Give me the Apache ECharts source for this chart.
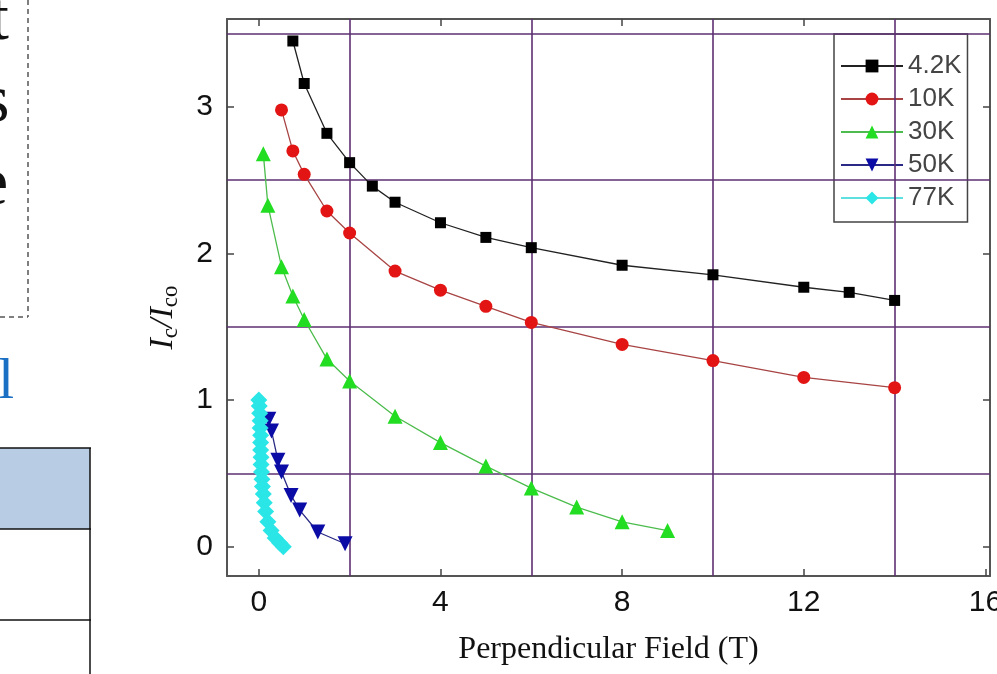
<!DOCTYPE html>
<html>
<head>
<meta charset="utf-8">
<title>Ic/Ico vs Perpendicular Field</title>
<script src="https://cdn.jsdelivr.net/npm/echarts@6/dist/echarts.min.js"></script>
<style>
	html, body { margin: 0; padding: 0; background: #fff; }
	#chart { width: 997px; height: 674px; }
</style>
</head>
<body>
<div id="chart"></div>
<script>
	// 数据
	var seriesNames = ['4.2K', '10K', '30K', '50K', '77K'];

	var field42 = [0.75, 1, 1.5, 2, 2.5, 3, 4, 5, 6, 8, 10, 12, 13, 14];
	var ratio42 = [3.45, 3.16, 2.82, 2.62, 2.46, 2.35, 2.21, 2.11, 2.04, 1.92, 1.855, 1.77, 1.735, 1.68];

	var field10 = [0.5, 0.75, 1, 1.5, 2, 3, 4, 5, 6, 8, 10, 12, 14];
	var ratio10 = [2.98, 2.70, 2.54, 2.29, 2.14, 1.88, 1.75, 1.64, 1.53, 1.38, 1.27, 1.155, 1.085];

	var field30 = [0.1, 0.2, 0.5, 0.75, 1, 1.5, 2, 3, 4, 5, 6, 7, 8, 9];
	var ratio30 = [2.68, 2.33, 1.91, 1.71, 1.55, 1.28, 1.13, 0.89, 0.71, 0.55, 0.40, 0.27, 0.17, 0.11];

	var field50 = [0.22, 0.28, 0.42, 0.5, 0.71, 0.9, 1.3, 1.9];
	var ratio50 = [0.87, 0.79, 0.59, 0.51, 0.35, 0.25, 0.1, 0.02];

	var field77 = [0.0, 0.01, 0.02, 0.03, 0.03, 0.04, 0.04, 0.04, 0.05, 0.05, 0.06, 0.07, 0.08, 0.1, 0.12, 0.15, 0.2, 0.27, 0.36, 0.46, 0.54];
	var ratio77 = [1.0, 0.96, 0.91, 0.86, 0.81, 0.76, 0.71, 0.66, 0.61, 0.56, 0.51, 0.46, 0.41, 0.36, 0.3, 0.24, 0.17, 0.11, 0.06, 0.025, 0.0];

	var xTicks = [0, 4, 8, 12, 16];
	var yTicks = [0, 1, 2, 3];
	var xGuides = [2, 6, 10, 14];
	var yGuides = [0.5, 1.5, 2.5, 3.5];

	var fieldList = [field42, field10, field30, field50, field77];
	var ratioList = [ratio42, ratio10, ratio30, ratio50, ratio77];

	var symbols = ['rect', 'circle', 'triangle', 'triangle', 'diamond'];
	var symbolSizes = [11, 13, 15, 15, 17];
	var symbolRotates = [0, 0, 0, 180, 0];
	var markColors = ['#000000', '#e31414', '#22dd22', '#0b0ba6', '#2ae6e6'];
	var lineColors = ['#222222', '#a84444', '#4cbc4c', '#2a2a86', '#5ee0e0'];

	function pairs(xs, ys) {
		var out = []
		for(var i = 0; i < xs.length; i++) {
			out.push([xs[i], ys[i]])
		}
		return out
	}

	var lineY = []
	for(var i = 0; i < seriesNames.length; i++) {
		lineY.push({
			name: seriesNames[i],
			type: 'line',
			xAxisIndex: 0,
			yAxisIndex: 0,
			symbol: symbols[i],
			symbolSize: symbolSizes[i],
			symbolRotate: symbolRotates[i],
			showAllSymbol: true,
			itemStyle: { color: markColors[i] },
			lineStyle: { color: lineColors[i], width: 1.3 },
			z: 5,
			data: pairs(fieldList[i], ratioList[i])
		})
	}

	// 紫色参考线
	var guideData = []
	for(var j = 0; j < xGuides.length; j++) guideData.push({ xAxis: xGuides[j] })
	for(var k = 0; k < yGuides.length; k++) guideData.push({ yAxis: yGuides[k] })
	lineY.push({
		name: 'guides',
		type: 'line',
		data: [],
		z: 1,
		markLine: {
			silent: true,
			symbol: ['none', 'none'],
			label: { show: false },
			animation: false,
			lineStyle: { color: '#5e2f72', width: 1.6, type: 'solid' },
			data: guideData
		}
	})

	var frameLine = { show: true, onZero: false, lineStyle: { color: '#555', width: 2 } }
	var tickStyle = { color: '#444', width: 1.5 }

	var myChart = echarts.init(document.getElementById('chart'));
	var option = {
		backgroundColor: '#fff',
		animation: false,
		grid: {
			left: 227,
			top: 19,
			right: 7,
			bottom: 98,
			outerBoundsMode: 'none'
		},
		legend: {
			data: seriesNames,
			orient: 'vertical',
			left: 834,
			top: 34,
			padding: [19, 6, 11, 6],
			itemWidth: 62,
			itemHeight: 16,
			itemGap: 7,
			backgroundColor: '#fff',
			borderColor: '#444',
			borderWidth: 1.5,
			borderRadius: 0,
			textStyle: {
				fontFamily: 'Liberation Sans, Arial, sans-serif',
				fontSize: 26,
				lineHeight: 26,
				color: '#444'
			}
		},
		xAxis: [{
			type: 'value',
			min: -0.7,
			max: 16.1,
			position: 'bottom',
			axisLine: frameLine,
			axisTick: { show: true, inside: true, length: 7, customValues: xTicks, lineStyle: tickStyle },
			axisLabel: {
				customValues: xTicks,
				fontFamily: 'Liberation Sans, Arial, sans-serif',
				fontSize: 30,
				color: '#111',
				margin: 12
			},
			splitLine: { show: false },
			name: 'Perpendicular Field (T)',
			nameLocation: 'middle',
			nameGap: 58,
			nameTextStyle: {
				fontFamily: 'Liberation Serif, Times New Roman, serif',
				fontSize: 32,
				color: '#111'
			}
		}, {
			type: 'value',
			min: -0.7,
			max: 16.1,
			position: 'top',
			axisLine: frameLine,
			axisTick: { show: true, inside: true, length: 7, customValues: xTicks.slice(0, 4), lineStyle: tickStyle },
			axisLabel: { show: false },
			splitLine: { show: false }
		}],
		yAxis: [{
			type: 'value',
			min: -0.2,
			max: 3.6,
			position: 'left',
			axisLine: frameLine,
			axisTick: { show: true, inside: true, length: 7, customValues: yTicks, lineStyle: tickStyle },
			axisLabel: {
				customValues: yTicks,
				fontFamily: 'Liberation Sans, Arial, sans-serif',
				fontSize: 30,
				color: '#111',
				margin: 14
			},
			splitLine: { show: false },
			name: '{i|I}{s|c}{i|/I}{s|co}',
			nameLocation: 'middle',
			nameRotate: 90,
			nameGap: 45,
			nameTextStyle: {
				padding: [0, 40, 0, 0],
				rich: {
					i: {
						fontFamily: 'Liberation Serif, Times New Roman, serif',
						fontStyle: 'italic',
						fontSize: 34,
						color: '#111'
					},
					s: {
						fontFamily: 'Liberation Serif, Times New Roman, serif',
						fontSize: 23,
						color: '#111',
						padding: [15, 0, 0, 0]
					}
				}
			}
		}, {
			type: 'value',
			min: -0.2,
			max: 3.6,
			position: 'right',
			axisLine: frameLine,
			axisTick: { show: true, inside: true, length: 7, customValues: yTicks, lineStyle: tickStyle },
			axisLabel: { show: false },
			splitLine: { show: false }
		}],
		// 左侧幻灯片残留部分
		graphic: [
			{ type: 'text', left: -10, top: -13, style: { text: 't', font: '68px Liberation Serif', fill: '#111' } },
			{ type: 'text', left: -17, top: 69, style: { text: 's', font: '68px Liberation Serif', fill: '#111' } },
			{ type: 'text', left: -22, top: 152, style: { text: 'e', font: '68px Liberation Serif', fill: '#111' } },
			{ type: 'line', shape: { x1: 28, y1: 0, x2: 28, y2: 317 }, style: { stroke: '#555', lineWidth: 1.5, lineDash: [5, 4] } },
			{ type: 'line', shape: { x1: 0, y1: 317, x2: 28, y2: 317 }, style: { stroke: '#555', lineWidth: 1.5, lineDash: [5, 4] } },
			{ type: 'text', left: -2, top: 354, style: { text: 'l', font: '58px Liberation Serif', fill: '#1b70c4' } },
			{ type: 'rect', shape: { x: 0, y: 448, width: 90, height: 81 }, style: { fill: '#b8cce4' } },
			{ type: 'line', shape: { x1: 0, y1: 448, x2: 91, y2: 448 }, style: { stroke: '#111', lineWidth: 1.5 } },
			{ type: 'line', shape: { x1: 0, y1: 529, x2: 91, y2: 529 }, style: { stroke: '#111', lineWidth: 1.5 } },
			{ type: 'line', shape: { x1: 0, y1: 620, x2: 91, y2: 620 }, style: { stroke: '#111', lineWidth: 1.5 } },
			{ type: 'line', shape: { x1: 90, y1: 448, x2: 90, y2: 674 }, style: { stroke: '#111', lineWidth: 1.5 } }
		],
		series: lineY
	}
	myChart.setOption(option);

	window.onresize = function() {
		myChart.resize();
	}
</script>
</body>
</html>
